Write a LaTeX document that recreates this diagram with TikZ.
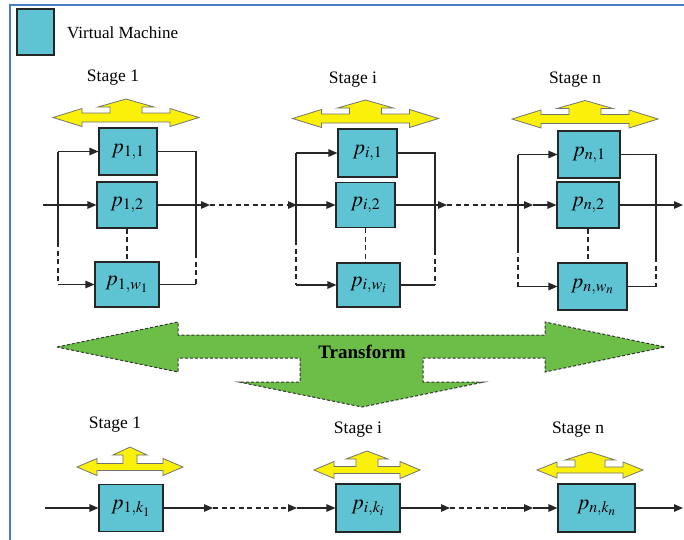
\documentclass[tikz,border=0pt]{standalone}
\usepackage{mathptmx}
\usepackage{fontspec}
\setmainfont{Liberation Serif}
\usetikzlibrary{arrows.meta}

\definecolor{vmblue}{RGB}{94,196,212}
\definecolor{arrowyellow}{RGB}{250,240,10}
\definecolor{transgreen}{RGB}{108,190,72}
\definecolor{frameblue}{RGB}{74,125,200}

% double-headed yellow arrow with an upward branch
% #1 centre, #2 half width, #3 head length, #4 head half height, #5 shaft half height,
% #6 up-shaft half width, #7 up-head half width, #8 up-head base, #9 up tip
\newcommand\yarrow[9]{%
  \draw[yel,shift={#1}] (#2,0) -- ({#2-#3},-#4) -- ({#2-#3},-#5) -- (#6,-#5) -- (#6,-#8)
    -- (#7,-#8) -- (0,-#9) -- (-#7,-#8) -- (-#6,-#8) -- (-#6,-#5) -- ({-#2+#3},-#5)
    -- ({-#2+#3},-#4) -- (-#2,0) -- ({-#2+#3},#4) -- ({-#2+#3},#5) -- ({#2-#3},#5)
    -- ({#2-#3},#4) -- cycle;}

\begin{document}
\begin{tikzpicture}[x=1pt,y=-1pt,
  vm/.style={draw=black!85, line width=1.1pt, fill=vmblue, inner sep=0pt,
    font=\fontsize{21.5}{25}\selectfont},
  wire/.style={draw=black!85, line width=1.2pt},
  arr/.style={-{Triangle[length=9pt,width=7.5pt]}},
  dsh/.style={dash pattern=on 5pt off 3.5pt},
  yel/.style={fill=arrowyellow, draw=black!55, line width=0.8pt},
  lbl/.style={font=\fontsize{17.5}{20}\selectfont, inner sep=0pt}]
\useasboundingbox (0,0) rectangle (684,539);

% frame
\draw[frameblue, line width=2pt] (684,5) -- (10,5) -- (10,540);

% legend
\node[vm, minimum width=37pt, minimum height=46pt] (leg) at (35.5,32) {};
\node[lbl, anchor=west, font=\fontsize{17}{20}\selectfont] (legtxt) at (67,33) {Virtual Machine};

% ---------------- upper pipeline ----------------
\node[lbl] (st1) at (113,78) {Stage 1};
\node[lbl] (sti) at (353,80) {Stage i};
\node[lbl] (stn) at (575,80) {Stage n};

\yarrow{(126,117.5)}{73}{29}{9}{4.5}{16}{28}{10.5}{18.5}
\yarrow{(365.5,118.5)}{73}{29}{9}{4.5}{16}{28}{10.5}{18.5}
\yarrow{(585,119)}{73}{29}{9}{4.5}{16}{28}{10.5}{18.5}

% stage 1
\node[vm, minimum width=58pt, minimum height=47pt] (a1) at (128,151.5) {$p_{1,1}$};
\node[vm, minimum width=60pt, minimum height=46pt] (a2) at (127,205) {$p_{1,2}$};
\node[vm, minimum width=64pt, minimum height=45pt] (aw) at (127,284.5) {$p_{1,w_1}$};
\coordinate (s1in) at (43,205);
\coordinate (s1L1) at (58,151.5);
\coordinate (s1Lm) at (58,242);
\coordinate (s1L2) at (58,284.5);
\coordinate (s1R1) at (196,151.5);
\coordinate (s1Rm) at (196,253);
\coordinate (s1R2) at (196,284.5);
\coordinate (s1out) at (210,205);
\draw[wire] (s1L1) -- (s1Lm);
\draw[wire,dsh] (s1Lm) -- (s1L2);
\draw[wire,arr] (s1L1) -- (a1.west);
\draw[wire,arr] (s1L2) -- (aw.west);
\draw[wire,arr] (s1in) -- (a2.west);
\draw[wire] (a1.east) -- (s1R1) -- (s1Rm);
\draw[wire,dsh] (s1Rm) -- (s1R2);
\draw[wire] (s1R2) -- (aw.east);
\draw[wire,arr] (a2.east) -- (s1out);
\draw[wire,dsh] (a2.south) -- (a2.south |- aw.north);

% stage i
\node[vm, minimum width=59pt, minimum height=48pt] (b1) at (367.5,153) {$p_{i,1}$};
\node[vm, minimum width=59pt, minimum height=45pt] (b2) at (365.5,205) {$p_{i,2}$};
\node[vm, minimum width=63pt, minimum height=44pt] (bw) at (368.5,285) {$p_{i,w_i}$};
\coordinate (siin) at (297,205);
\coordinate (siL1) at (296,153);
\coordinate (siLm) at (296,240);
\coordinate (siL2) at (296,285);
\coordinate (siR1) at (435,153);
\coordinate (siRm) at (435,250);
\coordinate (siR2) at (435,285);
\coordinate (siout) at (447,205);
\draw[wire,dsh,arr] (s1out) -- (siin);
\draw[wire] (siL1) -- (siLm);
\draw[wire,dsh] (siLm) -- (siL2);
\draw[wire,arr] (siL1) -- (b1.west);
\draw[wire,arr] (siL2) -- (bw.west);
\draw[wire,arr] (siin) -- (b2.west);
\draw[wire] (b1.east) -- (siR1) -- (siRm);
\draw[wire,dsh] (siRm) -- (siR2);
\draw[wire] (siR2) -- (bw.east);
\draw[wire,arr] (b2.east) -- (siout);
\draw[wire,dsh] (b2.south) -- (b2.south |- bw.north);

% stage n
\node[vm, minimum width=62pt, minimum height=47pt] (c1) at (589,154.5) {$p_{n,1}$};
\node[vm, minimum width=62pt, minimum height=46pt] (c2) at (588,205) {$p_{n,2}$};
\node[vm, minimum width=69pt, minimum height=47pt] (cw) at (592.5,286.5) {$p_{n,w_n}$};
\coordinate (snd) at (510,205);
\coordinate (snin) at (533,205);
\coordinate (snL1) at (518,154.5);
\coordinate (snLm) at (518,248);
\coordinate (snL2) at (518,286.5);
\coordinate (snR1) at (656,154.5);
\coordinate (snRm) at (656,257);
\coordinate (snR2) at (656,286.5);
\coordinate (snout) at (683,205);
\draw[wire,dsh] (siout) -- (snd);
\draw[wire,arr] (snd) -- (snin);
\draw[wire] (snL1) -- (snLm);
\draw[wire,dsh] (snLm) -- (snL2);
\draw[wire,arr] (snL1) -- (c1.west);
\draw[wire,arr] (snL2) -- (cw.west);
\draw[wire,arr] (snin) -- (c2.west);
\draw[wire] (c1.east) -- (snR1) -- (snRm);
\draw[wire,dsh] (snRm) -- (snR2);
\draw[wire] (snR2) -- (cw.east);
\draw[wire,arr] (c2.east) -- (snout);
\draw[wire,dsh] (c2.south) -- (c2.south |- cw.north);

% ---------------- transform arrow ----------------
\draw[fill=transgreen, draw=black!80, line width=1pt, dash pattern=on 3pt off 2pt]
  (57,347) -- (178,322) -- (178,335) -- (545,335) -- (545,322) -- (665,347)
  -- (545,372) -- (545,358) -- (423,358) -- (423,382) -- (484,382) -- (362,407)
  -- (239,382) -- (300,382) -- (300,358) -- (178,358) -- (178,372) -- cycle;
\node[font=\fontsize{19}{22}\selectfont\bfseries, inner sep=0pt] (tf) at (362,352) {Transform};

% ---------------- lower pipeline ----------------
\node[lbl] (lst1) at (115,425) {Stage 1};
\node[lbl] (lsti) at (358,430) {Stage i};
\node[lbl] (lstn) at (578,430) {Stage n};

\yarrow{(130,467)}{53}{20}{8.5}{3.5}{7}{17}{12}{20}
\yarrow{(367,470)}{53}{20}{8.5}{3.5}{11}{21}{11}{19}
\yarrow{(590,470)}{53}{20}{8}{3}{15}{25}{10}{18}

\node[vm, minimum width=64pt, minimum height=47pt] (d1) at (131,508) {$p_{1,k_1}$};
\node[vm, minimum width=64pt, minimum height=48pt] (d2) at (368,508) {$p_{i,k_i}$};
\node[vm, minimum width=77pt, minimum height=48pt] (d3) at (596.5,508) {$p_{n,k_n}$};
\coordinate (l1in) at (45,508);
\coordinate (l1out) at (213,508);
\coordinate (liin) at (297,508);
\coordinate (liout) at (450,508);
\coordinate (lnd) at (507,508);
\coordinate (lnin) at (533,508);
\coordinate (lnout) at (683,508);
\draw[wire,arr] (l1in) -- (d1.west);
\draw[wire,arr] (d1.east) -- (l1out);
\draw[wire,dsh,arr] (l1out) -- (liin);
\draw[wire,arr] (liin) -- (d2.west);
\draw[wire,arr] (d2.east) -- (liout);
\draw[wire,dsh] (liout) -- (lnd);
\draw[wire,arr] (lnd) -- (lnin);
\draw[wire,arr] (lnin) -- (d3.west);
\draw[wire,arr] (d3.east) -- (lnout);
\end{tikzpicture}
\end{document}
